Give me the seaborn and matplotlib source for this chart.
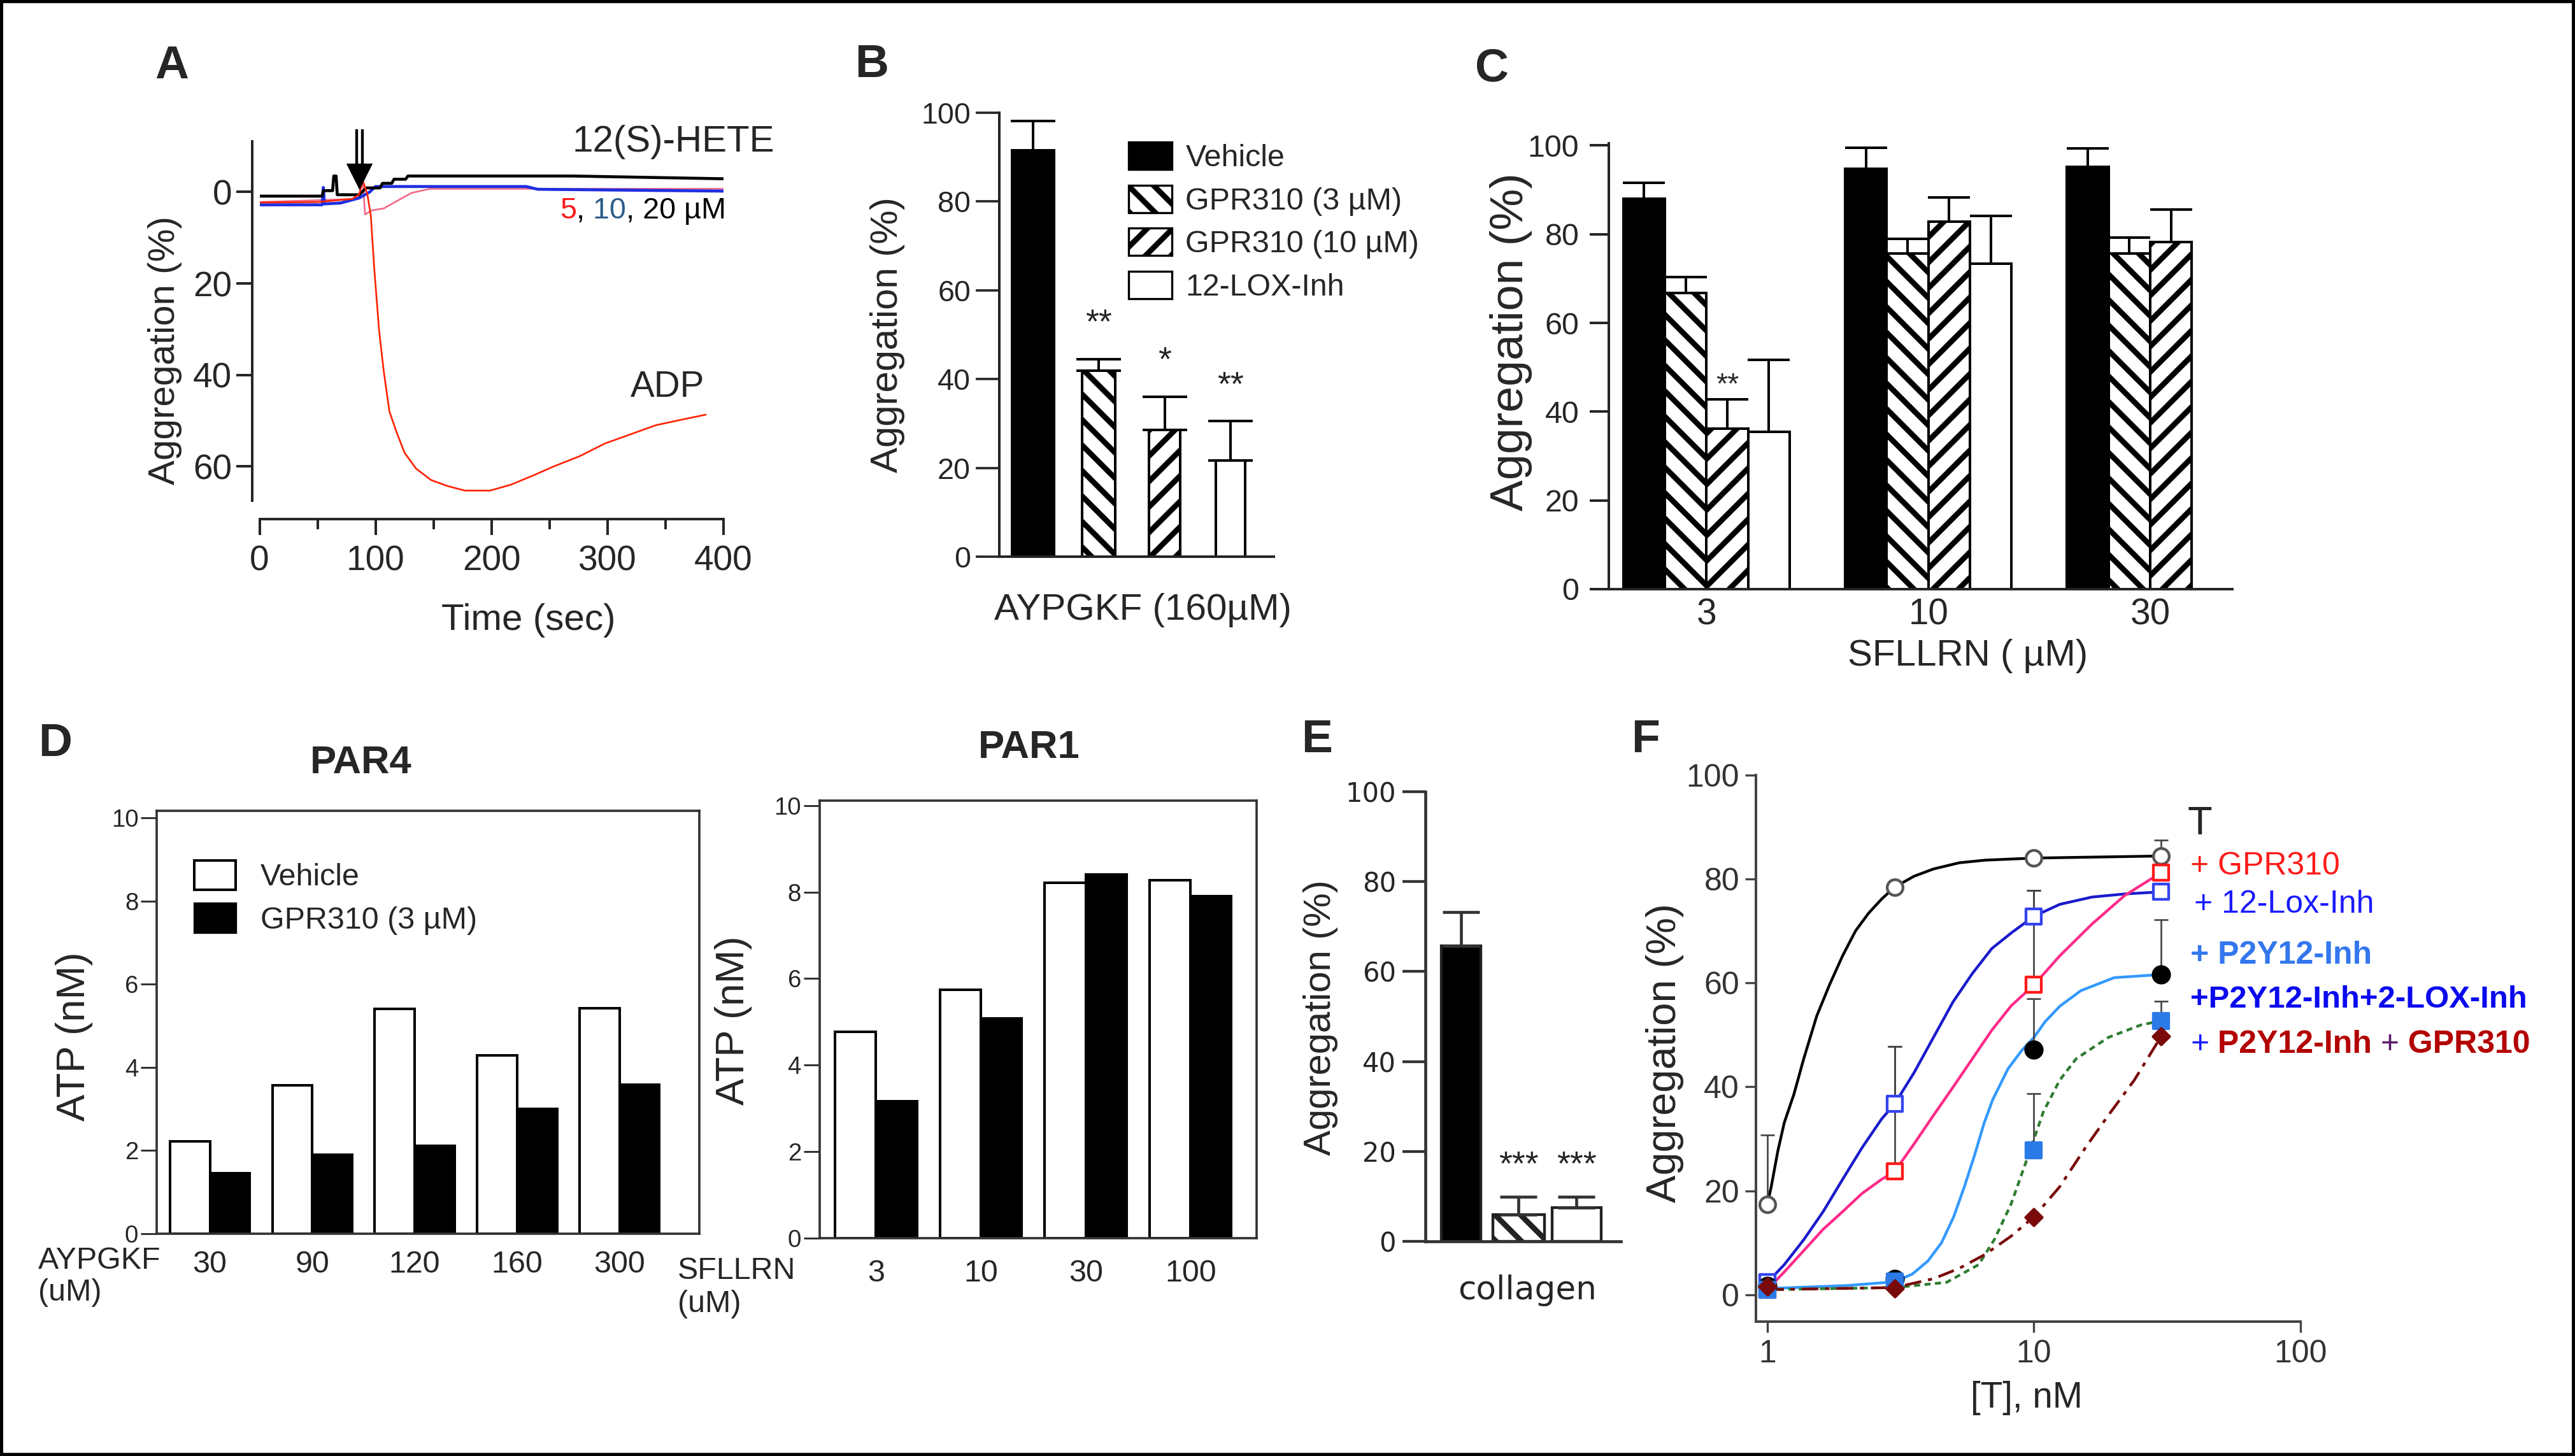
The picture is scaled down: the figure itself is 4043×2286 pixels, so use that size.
import numpy as np
import pandas as pd
import matplotlib.pyplot as plt
import seaborn as sns
from matplotlib.patches import Patch, Rectangle
from matplotlib.ticker import NullLocator

# ---------------- A: aggregation traces ----------------
adp_t = [0, 50, 80, 86, 89, 93, 96, 99, 103, 107, 112, 118, 125, 135, 148, 162, 177, 199, 217, 236, 254, 276, 298, 320, 342, 364, 385]
adp_v = [2.3, 2.2, 1.5, 0.5, -2.5, 0.5, 5.3, 17, 30, 39, 48, 52.4, 57, 60.5, 63, 64.3, 65.3, 65.3, 64, 62, 60, 57.8, 55, 53, 51, 49.8, 48.7]
hete5_t = [0, 85, 89, 91, 97, 107, 131, 147, 400]
hete5_v = [2.2, 1.5, -2.5, 4.9, 4.0, 3.6, 0.2, -0.7, -0.7]
hete10_t = [0, 54, 55, 56, 70, 86, 95, 100, 230, 240, 400]
hete10_v = [2.8, 2.8, -1.0, 2.6, 2.4, 1.3, 0.0, -1.2, -1.2, -0.6, -0.2]
hete20_t = [0, 54, 55, 63, 64, 66, 67, 86, 92, 104, 106, 114, 116, 126, 128, 270, 400]
hete20_v = [0.9, 0.9, -0.3, -0.3, -3.5, -3.5, 0.6, 0.6, -0.9, -0.9, -1.9, -1.9, -2.8, -2.8, -3.5, -3.5, -2.9]

# ---------------- B: AYPGKF ----------------
labels_b = ["Vehicle", "GPR310 (3 µM)", "GPR310 (10 µM)", "12-LOX-Inh"]
agg_b = [91.6, 41.9, 28.5, 21.7]
err_b = [6.6, 2.6, 7.5, 8.8]
stars_b = ["", "**", "*", "**"]

# ---------------- C: SFLLRN ----------------
conc_c = ["3", "10", "30"]
veh_c = [88.0, 94.8, 95.2]
veh_c_err = [3.6, 4.7, 4.2]
gpr3_c = [66.7, 75.6, 75.6]
gpr3_c_err = [3.6, 3.3, 3.6]
gpr10_c = [36.2, 82.9, 78.3]
gpr10_c_err = [6.6, 5.4, 7.3]
lox_c = [35.5, 73.4, np.nan]
lox_c_err = [16.2, 10.7, np.nan]

# ---------------- D: ATP release ----------------
conc_par4 = ["30", "90", "120", "160", "300"]
veh_par4 = [2.22, 3.57, 5.4, 4.29, 5.42]
gpr_par4 = [1.46, 1.9, 2.12, 3.0, 3.58]
conc_par1 = ["3", "10", "30", "100"]
veh_par1 = [4.77, 5.74, 8.21, 8.28]
gpr_par1 = [3.16, 5.08, 8.41, 7.9]

# ---------------- E: collagen ----------------
labels_e = ["Vehicle", "GPR310", "12-LOX-Inh"]
agg_e = [65.7, 5.9, 7.5]
err_e = [7.6, 4.0, 2.4]

# ---------------- F: thrombin dose response ----------------
dose_f = [1, 3, 10, 30]
t_y = [17.4, 78.4, 84.0, 84.4]
t_err = [13.3, 0, 0, 3.0]
gpr_y = [1.0, 23.7, 59.6, 81.2]
gpr_err = [0, 24.1, 18.2, 0]
lox_y = [2.4, 36.7, 72.8, 77.5]
lox_err = [0, 11.1, 5.0, 0]
p2y_y = [1.7, 3.1, 47.1, 61.6]
p2y_err = [0, 0, 9.8, 10.6]
p2ylox_y = [1.0, 2.6, 27.8, 52.7]
p2ylox_err = [0, 0, 10.9, 3.8]
p2ygpr_y = [1.6, 1.2, 15.0, 49.7]

# fitted curves
t_cx = [1, 1.034, 1.094, 1.157, 1.258, 1.369, 1.531, 1.713, 1.915, 2.142, 2.397, 2.681, 3.0, 3.548, 4.197, 5.252, 6.57, 10, 30]
t_cy = [17.4, 20.8, 27.6, 33.1, 38.6, 45.4, 53.6, 59.7, 65.2, 70, 73.4, 76.1, 78.4, 80.5, 81.9, 83.1, 83.6, 84, 84.4]
lox_cx = [1, 1.157, 1.369, 1.619, 1.915, 2.266, 2.681, 3.0, 3.548, 4.197, 4.966, 5.875, 6.95, 8.22, 10, 12.5, 16.5, 21.9, 30]
lox_cy = [2.4, 5.8, 10.6, 16, 22.2, 28.3, 33.8, 36.7, 42.7, 49.5, 56.3, 61.8, 66.6, 69.6, 72.8, 75.1, 76.5, 77.1, 77.5]
gpr_cx = [1, 1.157, 1.369, 1.619, 1.915, 2.266, 2.681, 3.0, 3.548, 4.197, 4.966, 5.875, 6.95, 8.22, 10, 12.5, 16.5, 21.9, 30]
gpr_cy = [1.0, 4.4, 8.5, 12.6, 16, 19.5, 22.2, 23.7, 29, 34.5, 39.9, 45.4, 50.9, 55.6, 59.6, 65.2, 71.3, 76.8, 81.2]
p2y_cx = [1, 2, 3, 3.5, 4, 4.5, 5, 5.5, 6, 6.5, 7, 8, 9, 10, 11, 12.5, 15, 20, 30]
p2y_cy = [1.2, 1.8, 2.5, 4, 6.5, 10, 15, 21, 27, 33, 37.5, 43.5, 47, 49.5, 52.5, 55.5, 58.5, 61, 61.6]
p2ylox_cx = [1, 3, 4.7, 6.2, 7.1, 8.2, 9.45, 10.85, 12.5, 14.4, 19, 25.2, 30]
p2ylox_cy = [1.0, 1.4, 2.4, 5.8, 10.6, 17.4, 26.3, 35.2, 41.3, 45.4, 49.5, 51.9, 52.7]
p2ygpr_cx = [1, 3, 4.2, 5.25, 6.57, 8.22, 10, 12.5, 15.6, 19, 23.8, 30]
p2ygpr_cy = [1.0, 1.4, 3.1, 5.1, 7.8, 11.3, 15, 20.8, 28.3, 34.5, 41.3, 49.7]

# ---------------- style ----------------
sns.set_style("ticks")
plt.rcParams["font.family"] = ["Liberation Sans", "DejaVu Sans"]
plt.rcParams["hatch.linewidth"] = 2.6
plt.rcParams["axes.linewidth"] = 1.2

W, H, DPI = 4043, 2286, 240
fig = plt.figure(figsize=(W / DPI, H / DPI), dpi=DPI)

HATCH_3 = "\\\\"   # GPR310 3 uM (two backslashes)
HATCH_10 = "//"    # GPR310 10 uM


def add_ax(x0, y0, x1, y1):
    # axes box given in output pixels
    return fig.add_axes([x0 / W, 1 - y1 / H, (x1 - x0) / W, (y1 - y0) / H])


def ftext(x, y, s, **kw):
    kw.setdefault("ha", "center")
    kw.setdefault("va", "center")
    return fig.text(x / W, 1 - y / H, s, **kw)


def set_bar_widths(ax, widths):
    for bar, w in zip(ax.patches, widths):
        c = bar.get_x() + bar.get_width() / 2
        bar.set_width(w)
        bar.set_x(c - w / 2)


def chain_text(ax, first, parts):
    prev = first
    for s, kw in parts:
        prev = ax.annotate(s, xy=(1, 0), xycoords=prev, va="bottom", ha="left",
                           annotation_clip=False, **kw)
    return prev


# ======== A ========
axA = add_ax(407.6, 221.8, 1135.5, 786)
sns.lineplot(x=hete5_t, y=hete5_v, ax=axA, color="#f06a8a", lw=0.8, estimator=None, sort=False)
sns.lineplot(x=hete10_t, y=hete10_v, ax=axA, color="#1f2fe0", lw=1.4, estimator=None, sort=False)
sns.lineplot(x=hete20_t, y=hete20_v, ax=axA, color="black", lw=1.4, estimator=None, sort=False)
sns.lineplot(x=adp_t, y=adp_v, ax=axA, color="#ff2200", lw=0.8, estimator=None, sort=False)
axA.set_xlim(0, 400)
axA.set_ylim(67.5, -11.1)
sns.despine(ax=axA)
axA.spines["left"].set_position(("outward", 3.5))
axA.spines["bottom"].set_position(("outward", 8.7))
axA.spines["bottom"].set_bounds(0, 400)
axA.set_yticks([0, 20, 40, 60])
axA.set_xticks([0, 100, 200, 300, 400])
axA.set_xticks([50, 150, 250, 350], minor=True)
axA.tick_params(axis="y", length=7.5, width=1.2, pad=2, labelsize=16.5)
axA.tick_params(axis="x", which="major", length=7.5, width=1.2, pad=4.5, labelsize=16.5)
axA.tick_params(axis="x", which="minor", length=4.8, width=1.2)
axA.set_xlabel("")
axA.set_ylabel("")
# double-shafted arrow marking the agonist addition
axA.vlines([84, 88.5], -13.7, -4.6, colors="black", lw=1.3, clip_on=False)
axA.plot([86.2], [-3.6], marker="v", ms=11, color="black", clip_on=False)
axA.text(270, -10.9, "12(S)-HETE", fontsize=17.5, ha="left", va="center", clip_on=False)
axA.text(320, 42.7, "ADP", fontsize=17, ha="left", va="center")
t5 = axA.text(259, 4.1, "5", color="#ff1a1a", fontsize=14, ha="left", va="center", clip_on=False)
chain_text(axA, t5, [(",", dict(color="black", fontsize=14)),
                     (" 10", dict(color="#2b5c8a", fontsize=14)),
                     (", 20 µM", dict(color="black", fontsize=14))])
ftext(259, 550, "Aggregation (%)", rotation=90, fontsize=17.5)
ftext(829.5, 974, "Time (sec)", fontsize=17.5)

# ======== B ========
axB = add_ax(1569, 177, 2000, 874)
sns.barplot(x=labels_b, y=agg_b, hue=labels_b, palette=["black", "white", "white", "white"],
            edgecolor="black", linewidth=1.2, legend=False, ax=axB)
set_bar_widths(axB, [0.63, 0.5, 0.47, 0.44])
for bar, hatch in zip(axB.patches, ["", HATCH_3, HATCH_10, ""]):
    bar.set_hatch(hatch)
axB.errorbar(range(len(agg_b)), agg_b, yerr=[np.zeros(len(err_b)), err_b], fmt="none",
             ecolor="black", elinewidth=1.2, capsize=10.5, capthick=1.2)
for i, (v, e, s) in enumerate(zip(agg_b, err_b, stars_b)):
    axB.text(i, v + e + 8, s, ha="center", va="center", fontsize=16)
axB.set_xlim(-0.513, 3.66)
axB.set_ylim(0, 100)
sns.despine(ax=axB)
axB.set_yticks(range(0, 101, 20))
axB.set_xticks([])
axB.tick_params(axis="y", length=11, width=1.1, pad=2.5, labelsize=14)
axB.set_ylabel("")
ftext(1393, 526, "Aggregation (%)", rotation=90, fontsize=18)
ftext(1794, 958, "AYPGKF (160µM)", fontsize=17.5)
handles_b = [Patch(fc="black", ec="black"), Patch(fc="white", ec="black", hatch=HATCH_3),
             Patch(fc="white", ec="black", hatch=HATCH_10), Patch(fc="white", ec="black")]
fig.legend(handles_b, labels_b, loc="upper left", bbox_to_anchor=(1772 / W, 1 - 223 / H),
           frameon=False, fontsize=14.5, handlelength=1.4, handleheight=1.0,
           labelspacing=0.4, handletextpad=0.45, borderpad=0, borderaxespad=0)
ftext(1369, 102, "B", fontsize=22, fontweight="bold")

# ======== C ========
treat_c = ["Vehicle", "GPR310 (3 µM)", "GPR310 (10 µM)", "12-LOX-Inh"]
vals_c = [veh_c, gpr3_c, gpr10_c, lox_c]
errs_c = [veh_c_err, gpr3_c_err, gpr10_c_err, lox_c_err]
df_c = pd.DataFrame([(c, t, v) for t, vs in zip(treat_c, vals_c) for c, v in zip(conc_c, vs)],
                    columns=["conc", "treatment", "value"])
axC = add_ax(2526, 225, 3505, 925)
sns.barplot(data=df_c, x="conc", y="value", hue="treatment", order=conc_c, hue_order=treat_c,
            palette=["black", "white", "white", "white"], edgecolor="black", linewidth=1.2,
            width=0.75, errorbar=None, legend=False, ax=axC)
for cont, hatch, errs in zip(axC.containers, ["", HATCH_3, HATCH_10, ""], errs_c):
    good = [e for e in errs if not np.isnan(e)]
    for bar, e in zip(cont, good):
        h = bar.get_height()
        if np.isnan(h):
            continue
        bar.set_hatch(hatch)
        xc = bar.get_x() + bar.get_width() / 2
        axC.errorbar(xc, h, yerr=[[0], [e]], fmt="none", ecolor="black", elinewidth=1.2,
                     capsize=10, capthick=1.2)
star_bar = axC.containers[2][0]
axC.text(star_bar.get_x() + star_bar.get_width() / 2, gpr10_c[0] + gpr10_c_err[0] + 3, "**",
         ha="center", va="center", fontsize=14)
axC.set_xlim(-0.44, 2.37)
axC.set_ylim(0, 100.5)
sns.despine(ax=axC)
axC.set_yticks(range(0, 101, 20))
axC.tick_params(axis="y", length=9, width=1.2, pad=5, labelsize=14.5)
axC.tick_params(axis="x", length=0, pad=4, labelsize=17)
axC.set_xlabel("")
axC.set_ylabel("")
ftext(2372, 537, "Aggregation (%)", rotation=90, fontsize=22)
ftext(3090, 1030, "SFLLRN ( µM)", fontsize=17.5)
ftext(2342, 108, "C", fontsize=22, fontweight="bold")


# ======== D ========
def atp_panel(box, conc, veh, gpr, xlim, ytop, pad):
    ax = add_ax(*box)
    df = pd.DataFrame({"conc": conc * 2,
                       "treatment": ["Vehicle"] * len(conc) + ["GPR310"] * len(conc),
                       "atp": veh + gpr})
    sns.barplot(data=df, x="conc", y="atp", hue="treatment", order=conc,
                hue_order=["Vehicle", "GPR310"], palette=["white", "black"], edgecolor="black",
                linewidth=1.2, width=0.78, errorbar=None, legend=False, ax=ax)
    ax.set_xlim(*xlim)
    ax.set_ylim(0, ytop)
    ax.set_yticks(range(0, 11, 2))
    for sp in ax.spines.values():
        sp.set_color("#333333")
        sp.set_linewidth(1.1)
    ax.tick_params(axis="y", length=7.6, width=0.9, pad=1, labelsize=11.5, color="#333333")
    ax.tick_params(axis="x", length=0, pad=pad, labelsize=14.5)
    ax.set_xlabel("")
    ax.set_ylabel("")
    return ax


axD4 = atp_panel((246, 1273, 1098, 1937), conc_par4, veh_par4, gpr_par4, (-0.52, 4.78), 10.17, 7.8)
axD1 = atp_panel((1286.6, 1256.5, 1973, 1944), conc_par1, veh_par1, gpr_par1, (-0.54, 3.63), 10.12, 10)
ftext(117, 1627, "ATP (nM)", rotation=90, fontsize=19)
ftext(1151, 1602, "ATP (nM)", rotation=90, fontsize=19)
ftext(567, 1198, "PAR4", fontsize=18.5, fontweight="bold")
ftext(1616, 1175, "PAR1", fontsize=18.5, fontweight="bold")
ftext(60, 1980, "AYPGKF", fontsize=14.5, ha="left")
ftext(60, 2029, "(uM)", fontsize=14.5, ha="left")
ftext(1064, 1995, "SFLLRN", fontsize=14.5, ha="left")
ftext(1064, 2048, "(uM)", fontsize=14.5, ha="left")
handles_d = [Patch(fc="white", ec="black", lw=1.2), Patch(fc="black", ec="black")]
fig.legend(handles_d, ["Vehicle", "GPR310 (3 µM)"], loc="upper left",
           bbox_to_anchor=(305 / W, 1 - 1351 / H), frameon=False, fontsize=14.5,
           handlelength=1.35, handleheight=1.08, labelspacing=0.37, handletextpad=0.8,
           borderpad=0, borderaxespad=0)
ftext(87, 1168, "D", fontsize=22, fontweight="bold")

# ======== E ========
axE = add_ax(2237.5, 1243, 2545, 1949)
sns.barplot(x=labels_e, y=agg_e, hue=labels_e, palette=["black", "white", "white"],
            edgecolor="#222222", linewidth=1.3, legend=False, ax=axE)
set_bar_widths(axE, [0.68, 0.9, 0.85])
axE.patches[1].set_hatch(HATCH_3)
axE.errorbar(range(len(agg_e)), agg_e, yerr=[np.zeros(len(err_e)), err_e], fmt="none",
             ecolor="#333333", elinewidth=1.4, capsize=8.6, capthick=1.4)
for i in (1, 2):
    axE.text(i, agg_e[i] + err_e[i] + 6.9, "***", ha="center", va="center", fontsize=16)
axE.set_xlim(-0.62, 2.77)
axE.set_ylim(0, 100)
sns.despine(ax=axE)
for sp in axE.spines.values():
    sp.set_color("#333333")
    sp.set_linewidth(1.4)
axE.set_yticks(range(0, 101, 20))
axE.set_yticklabels([str(v) for v in range(0, 101, 20)], family="DejaVu Sans")
axE.set_xticks([])
axE.tick_params(axis="y", length=10.7, width=1.3, pad=3, labelsize=12.5, color="#333333")
axE.set_ylabel("")
ftext(2073, 1598, "Aggregation (%)", rotation=90, fontsize=18)
ftext(2398, 2026, "collagen", fontsize=15.5, family="DejaVu Sans")
ftext(2068, 1162, "E", fontsize=22, fontweight="bold")

# ======== F ========
axF = add_ax(2757, 1216.6, 3612, 2074.6)
axF.set_xscale("log")
curve_style = [
    (t_cx, t_cy, "black", "-"),
    (lox_cx, lox_cy, "#1a1acc", "-"),
    (gpr_cx, gpr_cy, "#ff2a8a", "-"),
    (p2y_cx, p2y_cy, "#3399ff", "-"),
    (p2ylox_cx, p2ylox_cy, "#2e7d32", (0, (2.2, 1.6))),
    (p2ygpr_cx, p2ygpr_cy, "#7a0a0a", (0, (6, 2.5, 1.5, 2.5))),
]
for cx, cy, col, ls in curve_style:
    sns.lineplot(x=cx, y=cy, ax=axF, color=col, lw=1.3, linestyle=ls, estimator=None, sort=False)
for ys, es in [(t_y, t_err), (gpr_y, gpr_err), (lox_y, lox_err), (p2y_y, p2y_err),
               (p2ylox_y, p2ylox_err)]:
    xs = [x for x, e in zip(dose_f, es) if e > 0]
    yv = [y for y, e in zip(ys, es) if e > 0]
    ev = [e for e in es if e > 0]
    axF.errorbar(xs, yv, yerr=[np.zeros(len(ev)), ev], fmt="none", ecolor="#444444",
                 elinewidth=0.8, capsize=3.3, capthick=0.8, zorder=3)
marker_style = [
    (t_y, "o", "white", "#555555", 55),
    (gpr_y, "s", "white", "#ff1a1a", 55),
    (lox_y, "s", "white", "#3344ee", 55),
    (p2y_y, "o", "black", "black", 60),
    (p2ylox_y, "s", "#2a7ae8", "#2a7ae8", 55),
    (p2ygpr_y, "D", "#7a0a0a", "#7a0a0a", 30),
]
for ys, mk, fc, ec, size in marker_style:
    sns.scatterplot(x=dose_f, y=ys, ax=axF, marker=mk, color=fc, edgecolor=ec, linewidth=1.3,
                    s=size, zorder=5)
axF.set_xlim(0.906, 99.5)
axF.set_ylim(-5.1, 100)
sns.despine(ax=axF)
for sp in axF.spines.values():
    sp.set_color("#444444")
axF.set_xticks([1, 10, 100])
axF.set_xticklabels(["1", "10", "100"])
axF.xaxis.set_minor_locator(NullLocator())
axF.set_yticks(range(0, 101, 20))
axF.tick_params(axis="both", length=5, width=1.0, labelsize=15, color="#444444", labelcolor="#333333")
axF.tick_params(axis="y", pad=2.8)
axF.tick_params(axis="x", pad=3.6)
axF.set_xlabel("")
axF.set_ylabel("")
ftext(2614, 1653, "Aggregation (%)", rotation=90, fontsize=19.5)
ftext(3182, 2195, "[T], nM", fontsize=17)
ftext(3435, 1294, "T", fontsize=19, ha="left")
ftext(3439, 1360, "+ GPR310", fontsize=15, color="#ff1a1a", ha="left")
ftext(3445, 1420, "+ 12-Lox-Inh", fontsize=15, color="#1a1aff", ha="left")
ftext(3439, 1500, "+ P2Y12-Inh", fontsize=15, color="#3377ee", fontweight="bold", ha="left")
ftext(3439, 1570, "+P2Y12-Inh+2-LOX-Inh", fontsize=14.7, color="#0a0aee", fontweight="bold", ha="left")
first = ftext(3439, 1640, "+", fontsize=15, color="#1a1aff", ha="left")
chain_text(axF, first, [(" P2Y12-Inh", dict(fontsize=15, color="#b30000", fontweight="bold")),
                        (" +", dict(fontsize=15, color="#5a1a6a")),
                        (" GPR310", dict(fontsize=15, color="#b30000", fontweight="bold"))])
ftext(2584, 1162, "F", fontsize=22, fontweight="bold")

ftext(270, 104, "A", fontsize=22, fontweight="bold")

# frame around the whole figure
fig.add_artist(Rectangle((0, 0), 1, 1, transform=fig.transFigure, fill=False, lw=3, ec="black"))

fig.savefig("out.png", dpi=DPI)
